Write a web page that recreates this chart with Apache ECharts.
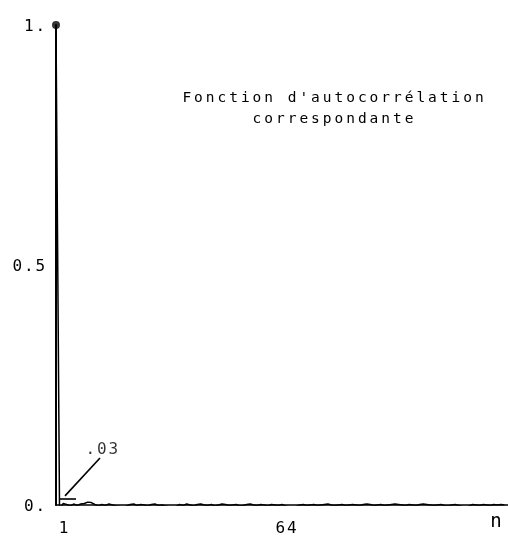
<!DOCTYPE html>
<html><head><meta charset="utf-8">
<script src="https://cdn.jsdelivr.net/npm/echarts@6/dist/echarts.min.js"></script>
<style>html,body{margin:0;padding:0;background:#fff}#c{width:508px;height:538px}</style>
</head><body><div id="c"></div><script>
// ---- data ----
const titleLines = ["Fonction d'autocorrélation", "correspondante"];
const yTicks = [0, 0.5, 1];
const yTickLabels = ["0.", "0.5", "1."];
const xTicks = [1, 64];
const xTickLabels = ["1", "64"];
const xEndLabel = "n";
// autocorrelation values for n = 1 .. 128
const acf = [
  1.000, -0.010, 0.003, 0.001, -0.002, 0.002, -0.001, 0.002, 0.003, 0.006, 0.005, 0.001, -0.002, 0.001, -0.001, 0.002,
  0.000, -0.002, -0.003, -0.006, -0.002, 0.001, 0.002, -0.001, 0.001, 0.000, -0.002, 0.001, 0.002, -0.001, 0.000, -0.002,
  -0.004, -0.008, -0.003, 0.001, -0.001, 0.002, 0.000, -0.002, 0.001, 0.002, 0.000, -0.001, 0.001, -0.002, 0.000, 0.002,
  0.001, -0.001, 0.000, 0.001, -0.002, -0.001, 0.001, 0.002, 0.000, -0.001, 0.001, 0.000, -0.002, 0.001, 0.000, -0.001,
  0.001, -0.002, -0.004, -0.008, -0.003, 0.000, 0.001, -0.001, 0.000, 0.001, -0.001, 0.000, 0.001, 0.002, 0.000, -0.001,
  0.000, 0.001, -0.001, 0.000, 0.001, 0.000, -0.001, 0.001, 0.002, 0.001, -0.001, 0.000, 0.001, -0.001, 0.000, 0.001,
  0.002, 0.001, 0.000, -0.001, 0.001, 0.000, -0.001, 0.001, 0.002, 0.001, 0.000, -0.001, 0.000, 0.001, -0.001, -0.002,
  0.000, 0.001, -0.001, -0.003, -0.006, -0.002, 0.001, 0.000, -0.001, 0.001, 0.000, -0.001, 0.001, 0.000, 0.001, 0.000
];
const annotationText = ".03";
const markerSegment = [[1.85, 0.0125], [6.66, 0.0125]];
const leaderSegment = [[3.55, 0.019], [13.46, 0.098]];
const annotationAt = [14.0, 0.115];

// ---- helpers ----
const MONO = "'DejaVu Sans Mono', 'Liberation Mono', monospace";
function spaced(str, key) {
  return str.split('\n').map(line => line.split('').map(ch => '{' + key + '|' + ch + '}').join('')).join('\n');
}
const AX_FS = 16, TI_FS = 14.5;
const richAxis = { a: { width: 11.5, align: 'center', fontFamily: MONO, fontSize: AX_FS, color: '#000' } };
const richTitle = { t: { width: 11.7, align: 'center', fontFamily: MONO, fontSize: TI_FS, color: '#000', lineHeight: 21 } };

const chart = echarts.init(document.getElementById('c'), null, { renderer: 'canvas' });
chart.setOption({
  animation: false,
  backgroundColor: '#fff',
  grid: { left: 56, right: 0, top: 25, bottom: 33, containLabel: false },
  xAxis: {
    type: 'value', min: 1, max: 129,
    axisLine: { show: true, onZero: true, lineStyle: { color: '#000', width: 1.5 } },
    axisTick: { show: false },
    splitLine: { show: false },
    axisLabel: {
      customValues: xTicks,
      margin: 16,
      padding: [0, 0, 0, 15],
      fontSize: AX_FS, fontFamily: MONO, color: '#000',
      formatter: v => spaced(xTickLabels[xTicks.indexOf(v)] || '', 'a'),
      rich: richAxis
    }
  },
  yAxis: {
    type: 'value', min: 0, max: 1, interval: 0.5,
    axisLine: { show: true, lineStyle: { color: '#000', width: 2 } },
    axisTick: { show: false },
    splitLine: { show: false },
    axisLabel: {
      margin: 10,
      padding: [4, 0, 0, 0],
      fontSize: AX_FS, fontFamily: MONO, color: '#000',
      formatter: v => spaced(yTickLabels[yTicks.indexOf(v)] || '', 'a'),
      rich: richAxis
    }
  },
  graphic: [
    {
      type: 'text', x: 333, y: 88, silent: true,
      style: { text: spaced(titleLines.join('\n'), 't'), rich: richTitle, fontSize: TI_FS, fontFamily: MONO, fill: '#000', lineHeight: 21, align: 'center', verticalAlign: 'top', textAlign: 'center' }
    },
    {
      type: 'text', x: 496, y: 513, silent: true,
      style: { text: xEndLabel, font: '19px ' + MONO, fill: '#000', align: 'center', verticalAlign: 'top', textAlign: 'center' }
    }
  ],
  series: [
    {
      type: 'line',
      data: acf.map((v, i) => [i + 1, v]),
      showSymbol: false,
      lineStyle: { color: '#000', width: 1.5 },
      z: 3,
      markLine: {
        silent: true, symbol: 'none', animation: false,
        label: { show: false },
        lineStyle: { color: '#000', width: 1.6, type: 'solid' },
        data: [
          [{ coord: markerSegment[0] }, { coord: markerSegment[1] }],
          [{ coord: leaderSegment[0] }, { coord: leaderSegment[1] }]
        ]
      }
    },
    {
      type: 'scatter',
      data: [[1, acf[0]]],
      symbol: 'circle', symbolSize: 8,
      itemStyle: { color: '#000' },
      z: 4
    },
    {
      type: 'scatter',
      data: [annotationAt],
      symbolSize: 1,
      itemStyle: { color: 'rgba(0,0,0,0)' },
      label: { show: true, position: 'inside', fontSize: AX_FS, fontFamily: MONO, color: '#000', formatter: () => spaced(annotationText, 'a'), rich: richAxis },
      z: 5
    }
  ]
});
</script></body></html>
